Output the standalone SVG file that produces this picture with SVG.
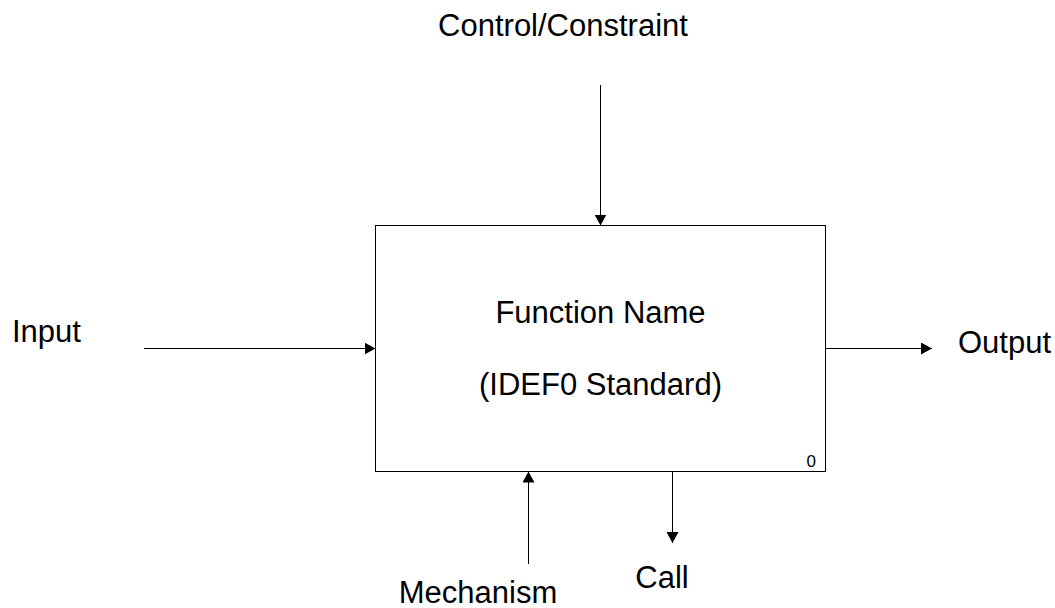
<svg xmlns="http://www.w3.org/2000/svg" width="1055" height="608" viewBox="0 0 1055 608">
  <defs>
    <marker id="arrow" viewBox="0 0 11 12" refX="11" refY="6" markerWidth="11" markerHeight="12" markerUnits="userSpaceOnUse" orient="auto">
      <path d="M0,0 L11,6 L0,12 z" fill="#000"/>
    </marker>
    <style>
      .lbl { font-family: "Liberation Sans", Arial, sans-serif; font-size: 31px; fill: #000; }
      .num { font-family: "Liberation Sans", Arial, sans-serif; font-size: 17px; fill: #000; }
      .conn { stroke: #000; stroke-width: 1; fill: none; marker-end: url(#arrow); }
      .box { fill: #fff; stroke: #000; stroke-width: 1; }
    </style>
  </defs>
  <rect width="1055" height="608" fill="#fff"/>
  <g id="connectors">
    <line class="conn" x1="600.5" y1="85" x2="600.5" y2="225.5"/>
    <line class="conn" x1="144" y1="348.5" x2="375.5" y2="348.5"/>
    <line class="conn" x1="825.5" y1="348.5" x2="932" y2="348.5"/>
    <line class="conn" x1="528.5" y1="564" x2="528.5" y2="471.5"/>
    <line class="conn" x1="672.5" y1="471.5" x2="672.5" y2="543"/>
  </g>
  <g id="function">
    <rect class="box" x="375.5" y="225.5" width="450" height="246"/>
    <text class="lbl" x="600.5" y="323" text-anchor="middle">Function Name</text>
    <text class="lbl" x="600.5" y="395" text-anchor="middle">(IDEF0 Standard)</text>
    <text class="num" x="816" y="467" text-anchor="end">0</text>
  </g>
  <g id="control"><text class="lbl" x="563" y="36" text-anchor="middle">Control/Constraint</text></g>
  <g id="input"><text class="lbl" x="12" y="342">Input</text></g>
  <g id="output"><text class="lbl" x="958" y="353">Output</text></g>
  <g id="mechanism"><text class="lbl" x="478" y="603" text-anchor="middle">Mechanism</text></g>
  <g id="call"><text class="lbl" x="662" y="588" text-anchor="middle">Call</text></g>
</svg>
